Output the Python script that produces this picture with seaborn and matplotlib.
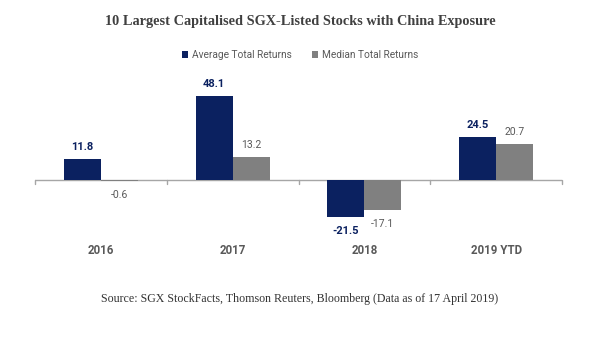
import matplotlib
matplotlib.use("Agg")
import matplotlib.pyplot as plt
import matplotlib.transforms as mtransforms
from matplotlib.patches import Patch
import seaborn as sns
import pandas as pd

categories = ["2016", "2017", "2018", "2019 YTD"]
average_returns = [11.8, 48.1, -21.5, 24.5]
median_returns = [-0.6, 13.2, -17.1, 20.7]
series_names = ["Average Total Returns", "Median Total Returns"]
title = "10 Largest Capitalised SGX-Listed Stocks with China Exposure"
source = "Source: SGX StockFacts, Thomson Reuters, Bloomberg (Data as of 17 April 2019)"

navy = "#0b2160"
gray = "#808080"
txt_gray = "#595959"
line_gray = "#a6a6a6"

df = pd.DataFrame({
    "Year": categories * 2,
    "Value": average_returns + median_returns,
    "Series": [series_names[0]] * len(categories) + [series_names[1]] * len(categories),
})

sns.set_theme(style="white")
plt.rcParams["font.family"] = ["Roboto", "DejaVu Sans"]

fig = plt.figure(figsize=(6.0, 3.59), dpi=100)
ax = fig.add_axes([35 / 600, (359 - 232) / 359, 527 / 600, (232 - 84.3) / 359])

sns.barplot(data=df, x="Year", y="Value", hue="Series", order=categories,
            hue_order=series_names, palette=[navy, gray], width=0.56,
            gap=0, saturation=1, linewidth=0, legend=False, ax=ax)

ax.set_ylim(-30, 55)
ax.set_xlim(-0.5, len(categories) - 0.5)
for s in ax.spines.values():
    s.set_visible(False)
ax.set_yticks([])
ax.set_xlabel("")
ax.set_ylabel("")
ax.tick_params(axis="x", length=0, pad=9, labelsize=8.3, labelcolor=txt_gray)
for lab in ax.get_xticklabels():
    lab.set_fontweight("bold")

# zero line with category boundary ticks
ax.axhline(0, color=line_gray, linewidth=1.0, zorder=0)
trans = mtransforms.blended_transform_factory(ax.transData, ax.transAxes)
zero_ax = (0 - (-30)) / 85
for b in range(len(categories) + 1):
    xb = b - 0.5
    ax.plot([xb, xb], [zero_ax, zero_ax - 0.028], transform=trans,
            color=line_gray, linewidth=1.0, clip_on=False)

# data labels
for cont, col, weight, size in zip(ax.containers, [navy, txt_gray], ["bold", "normal"], [8, 7.5]):
    for rect in cont:
        y0 = rect.get_y()
        h = rect.get_height()
        top = max(y0, y0 + h)
        bot = min(y0, y0 + h)
        x = rect.get_x() + rect.get_width() / 2
        if bot >= 0:
            ax.annotate(f"{top:.1f}", (x, top), xytext=(0, 5), textcoords="offset points",
                        ha="center", va="bottom", color=col, fontweight=weight, fontsize=size)
        else:
            ax.annotate(f"{bot:.1f}", (x, bot), xytext=(0, -6.5), textcoords="offset points",
                        ha="center", va="top", color=col, fontweight=weight, fontsize=size)

# legend
handles = [Patch(facecolor=navy, edgecolor="none"), Patch(facecolor=gray, edgecolor="none")]
fig.legend(handles, series_names, loc="center", bbox_to_anchor=(0.5, 1 - 55 / 359),
           ncol=2, frameon=False, fontsize=7.3, labelcolor=txt_gray,
           handlelength=0.65, handleheight=0.65, handletextpad=0.35, columnspacing=2.0)

fig.text(0.5, 1 - 22 / 359, title, ha="center", va="center", fontsize=10.3,
         fontweight="bold", color="#404040", family=["Liberation Serif"])
fig.text(0.5, 1 - 299 / 359, source, ha="center", va="center", fontsize=8.6,
         color="#333333", family=["Liberation Serif"])

fig.savefig("out.png", dpi=100)
